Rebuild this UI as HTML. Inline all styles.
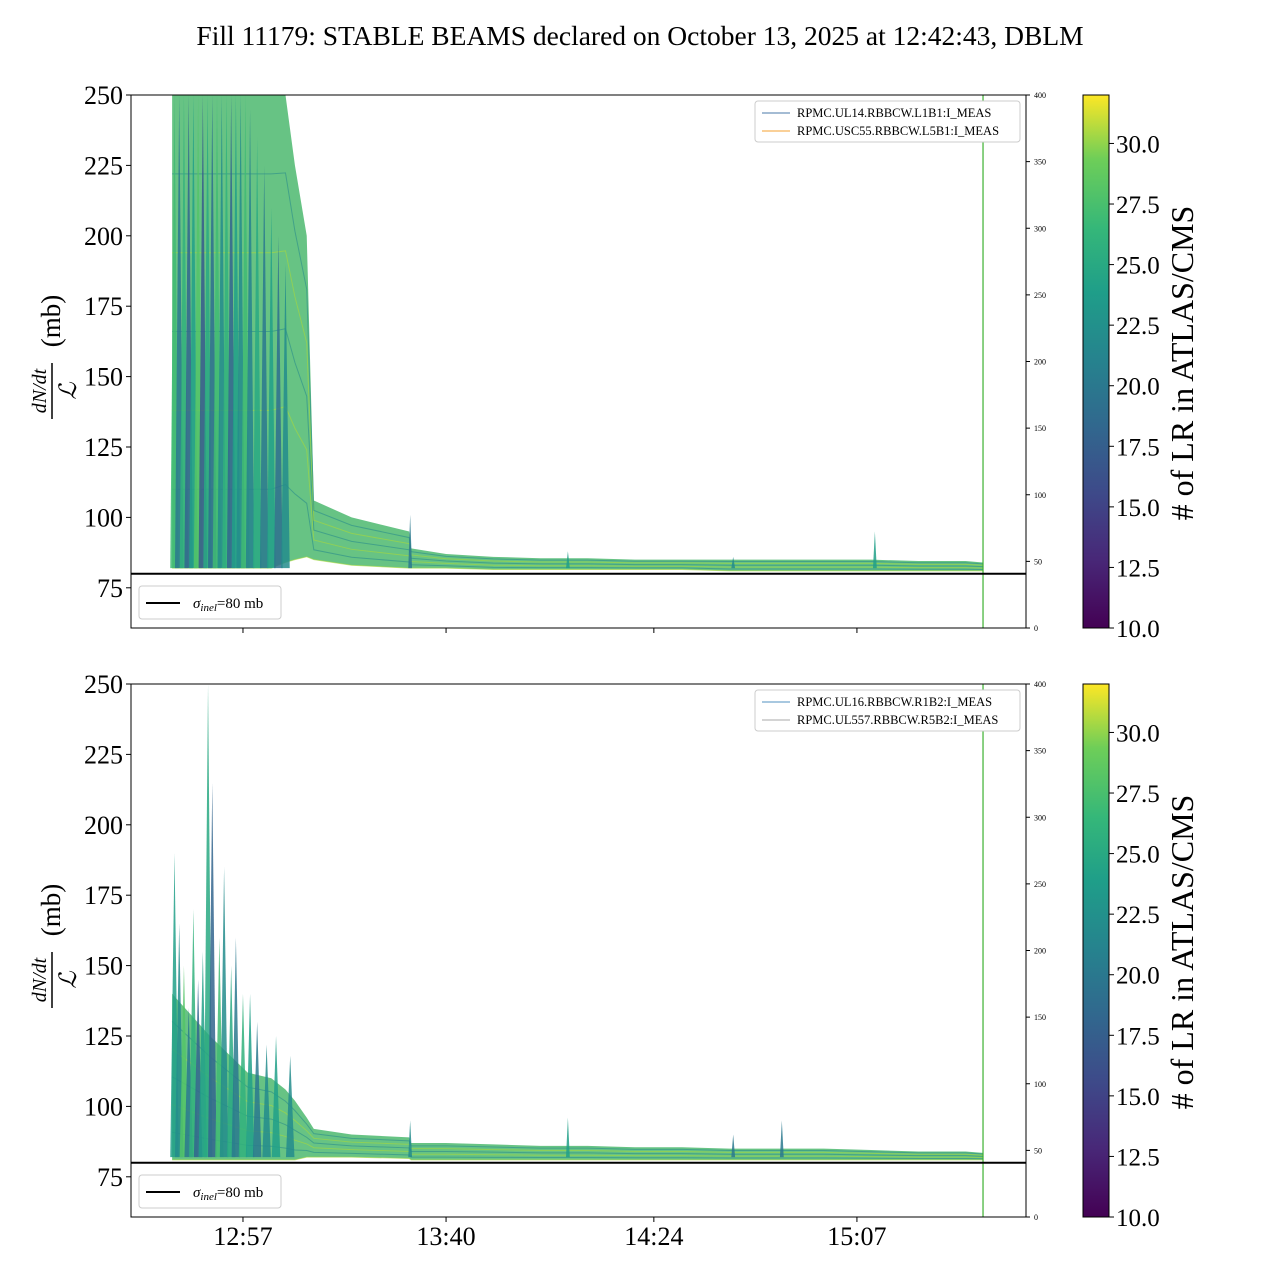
<!DOCTYPE html>
<html><head><meta charset="utf-8"><style>
body{margin:0;background:#fff;font-family:"Liberation Serif",serif;}
svg text{font-family:"Liberation Serif",serif;}
</style></head><body>
<svg id="c" width="1280" height="1280" xmlns="http://www.w3.org/2000/svg">
<defs>
<linearGradient id="vir" x1="0" y1="1" x2="0" y2="0">
<stop offset="0" stop-color="#440154"/><stop offset="0.13" stop-color="#482878"/><stop offset="0.25" stop-color="#3e4989"/><stop offset="0.38" stop-color="#31688e"/><stop offset="0.5" stop-color="#26828e"/><stop offset="0.63" stop-color="#1f9e89"/><stop offset="0.75" stop-color="#35b779"/><stop offset="0.88" stop-color="#6ece58"/><stop offset="1" stop-color="#fde725"/>
</linearGradient>
</defs>
<text x="640" y="45" font-size="27.5" text-anchor="middle">Fill 11179: STABLE BEAMS declared on October 13, 2025 at 12:42:43, DBLM</text>
</svg>
<script>
// ---- data (minutes since 12:00) ----
const xTickLabels=["12:57","13:40","14:24","15:07"];
const xTickTimes=[57,100,144,187];
const yTicks=[75,100,125,150,175,200,225,250];
const rTicks=[0,50,100,150,200,250,300,350,400];
const cbTicks=[10.0,12.5,15.0,17.5,20.0,22.5,25.0,27.5,30.0];
// band envelopes
const bandT=[42,50,58,63,66,68,70.5,72,80,92.2,92.6,100,110,120,130,140,150,160,170,180,190,200,210,213.7];
const topUpper=[250,250,250,250,250,225,200,106,100,95,89,87,86,85.5,85.5,85,85,85,85,85,85,84.5,84.5,84];
const topLower=[82,82,82,82,84,85,86,85,83,82,82,82,81.5,81.5,81.5,81.5,81.5,81,81,81,81,81,81,81];
const botUpper=[140,125,112,110,106,102,96,92,90,89,87,87,86.5,86,86,85.5,85.5,85,85,85,84.5,84,84,83.5];
const botLower=[81,81,81,81,81,81,82,82,82,81.5,81,81,81,81,81,81,81,81,81,81,81,81,81,81];
// spikes: time, peak value, color value
const topSpikeT=[42.5,43.5,44.5,45.5,46.5,47.5,48.5,49.5,50.5,51.5,52.5,53.5,54.5,55.5,56.5,57.5,58.5,60,61.5,63,64.5,66,92.4,125.8,160.8,190.8];
const topSpikeV=[250,250,250,250,250,250,250,250,250,250,250,250,250,250,250,250,245,235,225,210,200,190,101,88,86,95];
const topSpikeC=[27,20,26,18,24,28,17,25,19,27,22,26,18,24,22,27,21,25,20,24,19,22,20,24,22,24];
const botSpikeT=[42.5,43.5,44.5,45.5,46.5,47.5,48.5,49.6,50.5,52,53,54.5,55.5,57,58.5,60,62,64,67,92.4,125.8,160.8,171.1];
const botSpikeV=[190,165,150,135,170,145,155,250,215,160,185,150,160,140,140,130,122,125,118,95,96,90,95];
const botSpikeC=[24,22,28,20,26,18,24,25,18,27,22,25,20,26,24,20,22,24,22,22,24,20,20];
const endLineT=213.7;
// ---- layout ----
const svg=document.getElementById('c');
const NS="http://www.w3.org/2000/svg";
const X0=131,X1=1026,T0=33.29,T1=222.8;
function xs(t){return X0+(t-T0)*(X1-X0)/(T1-T0);}
function mk(tag,attrs,parent){const e=document.createElementNS(NS,tag);for(const k in attrs)e.setAttribute(k,attrs[k]);(parent||svg).appendChild(e);return e;}
function vir(v){const s=[[68,1,84],[72,40,120],[62,73,137],[49,104,142],[38,130,142],[31,158,137],[53,183,121],[110,206,88],[253,231,37]];let f=Math.max(0,Math.min(1,(v-10)/22))*8;let i=Math.min(7,Math.floor(f));let r=f-i;const a=s[i],b=s[i+1];return `rgb(${a.map((c,j)=>Math.round(c+(b[j]-c)*r)).join(',')})`;}
function panel(top,upper,lower,spT,spV,spC,leg,idx){
  const Y0=top,Y1=top+533;
  const ys=v=>Y0+(250-v)*2.816;
  const g=mk('g',{});
  
  
  const cp=mk('clipPath',{id:'cp'+idx});mk('rect',{x:X0,y:Y0,width:X1-X0,height:533},cp);
  const d=mk('g',{'clip-path':`url(#cp${idx})`},g);
  let p=bandT.map((t,i)=>`${xs(t)},${ys(upper[i])}`).join(' ')+' '+bandT.map((t,i)=>`${xs(t)},${ys(lower[i])}`).reverse().join(' ');
  const band=mk('polygon',{points:p,fill:'#4cb86e',opacity:'0.85'},d);
  
  
  for(let k=0;k<6;k++){
    const f=k/6;
    const pts=bandT.map((t,i)=>`${xs(t)},${ys(lower[i]+(upper[i]-lower[i])*f)}`).join(' ');
    const l=mk('polyline',{points:pts,fill:'none',stroke:k%2?'#2a8c8a':'#a8d83a','stroke-width':1,opacity:0.6},d);
    
    
  }
  spT.forEach((t,i)=>{
    const w=t<70?0.9:0.4;
    const s=mk('polygon',{points:`${xs(t-w)},${ys(82)} ${xs(t)},${ys(spV[i])} ${xs(t+w)},${ys(82)}`,fill:vir(spC[i]),opacity:0.85},d);
    
    
  });
  const el=mk('line',{x1:xs(endLineT),x2:xs(endLineT),y1:Y0,y2:Y1,stroke:'#3cb030','stroke-width':1.2},d);
  
  
  const sl=mk('line',{x1:X0,x2:X1,y1:ys(80),y2:ys(80),stroke:'#000','stroke-width':2},d);
  
  
  const fr=mk('rect',{x:X0,y:Y0,width:X1-X0,height:533,fill:'none',stroke:'#000','stroke-width':1},g);
  
  
  yTicks.forEach(v=>{const y=ys(v);mk('line',{x1:X0-5,x2:X0,y1:y,y2:y,stroke:'#000'},g);
    const t=mk('text',{x:X0-8,y:y+9,'font-size':26,'text-anchor':'end'},g);t.textContent=v;
    
    });
  rTicks.forEach(v=>{const y=Y1-v*533/400;mk('line',{x1:X1,x2:X1+4,y1:y,y2:y,stroke:'#000'},g);
    const t=mk('text',{x:X1+8,y:y+3,'font-size':8},g);t.textContent=v;
    
    });
  xTickTimes.forEach((tt,i)=>{const x=xs(tt);mk('line',{x1:x,x2:x,y1:Y1,y2:Y1+5,stroke:'#000'},g);
    if(idx===2){const t=mk('text',{x:x,y:Y1+28,'font-size':26,'text-anchor':'middle'},g);t.textContent=xTickLabels[i];
    
    }});
  const yl=mk('g',{transform:`translate(52,${Y0+266}) rotate(-90)`},g);
  
  
  let t=mk('text',{x:-30,y:-6,'font-size':20,'font-style':'italic','text-anchor':'middle'},yl);t.textContent='dN/dt';
  mk('line',{x1:-58,x2:-2,y1:0,y2:0,stroke:'#000','stroke-width':1.5},yl);
  t=mk('text',{x:-30,y:24,'font-size':24,'font-style':'italic','text-anchor':'middle'},yl);t.textContent='ℒ';
  t=mk('text',{x:40,y:8,'font-size':27,'text-anchor':'middle'},yl);t.textContent='(mb)';
  const lg=mk('g',{},g);
  
  
  mk('rect',{x:755,y:Y0+6,width:265,height:41,rx:3,fill:'#fff',stroke:'#ccc'},lg);
  leg.forEach((L,i)=>{const y=Y0+18+i*18;mk('line',{x1:762,x2:790,y1:y,y2:y,stroke:L[1]},lg);
    const tt=mk('text',{x:797,y:y+4,'font-size':12.5},lg);tt.textContent=L[0];
    
    });
  const sg=mk('g',{},g);
  
  
  mk('rect',{x:139,y:Y1-42,width:142,height:33,rx:3,fill:'#fff',stroke:'#ccc'},sg);
  mk('line',{x1:146,x2:180,y1:Y1-25,y2:Y1-25,stroke:'#000','stroke-width':2},sg);
  t=mk('text',{x:193,y:Y1-20,'font-size':15},sg);
  t.innerHTML='<tspan font-style="italic">σ</tspan><tspan font-style="italic" font-size="11" dy="3">inel</tspan><tspan dy="-3">=80 mb</tspan>';
  const cb=mk('g',{},g);
  
  
  mk('rect',{x:1083,y:Y0,width:26,height:533,fill:'url(#vir)',stroke:'#000'},cb);
  cbTicks.forEach(v=>{const y=Y1-(v-10)*533/22;mk('line',{x1:1109,x2:1114,y1:y,y2:y,stroke:'#000'},cb);
    const tt=mk('text',{x:1116,y:y+9,'font-size':25},cb);tt.textContent=v.toFixed(1);
    
    });
  t=mk('text',{x:0,y:0,'font-size':32,'text-anchor':'middle',transform:`translate(1193,${Y0+268}) rotate(-90)`},cb);t.textContent='# of LR in ATLAS/CMS';
  
  
}
panel(95,topUpper,topLower,topSpikeT,topSpikeV,topSpikeC,[["RPMC.UL14.RBBCW.L1B1:I_MEAS","#4a7aa8"],["RPMC.USC55.RBBCW.L5B1:I_MEAS","#f5a030"]],1);
panel(684,botUpper,botLower,botSpikeT,botSpikeV,botSpikeC,[["RPMC.UL16.RBBCW.R1B2:I_MEAS","#5090c0"],["RPMC.UL557.RBBCW.R5B2:I_MEAS","#aaaaaa"]],2);
</script>
</body></html>
